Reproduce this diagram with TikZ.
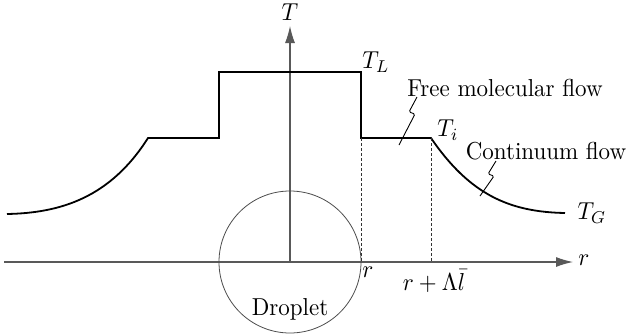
\documentclass[tikz,border=0pt]{standalone}
\usetikzlibrary{arrows.meta}
\begin{document}
\begin{tikzpicture}[x=1pt,y=-1pt,
  axis/.style={draw=black!65,line width=1.1pt},
  prof/.style={draw=black,line width=1.8pt,line join=miter},
  guide/.style={draw=black!80,line width=0.8pt,dash pattern=on 3pt off 2pt},
  leader/.style={draw=black,line width=0.9pt,rounded corners=1.5pt},
  lbl/.style={inner sep=0pt,xscale=2.3,yscale=2.45},
  arr/.style={-{Latex[length=17pt,width=10pt]}}]
\useasboundingbox (0,0) rectangle (630,335);
% axes
\coordinate (rstart) at (4,262);
\coordinate (rend) at (573,262);
\coordinate (o) at (290,262);
\coordinate (tend) at (290,26);
\draw[axis,arr] (rstart) -- (rend);
\draw[axis,arr] (o) -- (tend);
\node[lbl] (Tlab) at (290,12) {$T$};
\node[lbl] (rlab) at (584,260) {$r$};
% droplet
\node[draw=black!70,line width=0.8pt,circle,minimum size=142pt,inner sep=0pt] (drop) at (290,262) {};
\node[lbl] (droplet) at (290,309) {Droplet};
% profile
\coordinate (a0) at (7,214);
\coordinate (a1) at (148,138);
\coordinate (a2) at (219,138);
\coordinate (a3) at (219,72);
\coordinate (a4) at (361,72);
\coordinate (a5) at (361,138);
\coordinate (a6) at (431,138);
\coordinate (a7) at (565,213);
\draw[prof] (a0) .. controls (60,213) and (110,198) .. (a1) -- (a2) -- (a3) -- (a4) -- (a5) -- (a6) .. controls (470,195) and (510,212) .. (a7);
% dashed guides
\coordinate (g1) at (361,262);
\coordinate (g2) at (431,262);
\draw[guide] (a5) -- (g1);
\draw[guide] (a6) -- (g2);
% labels
\node[lbl] (TL) at (376,62) {$T_L$};
\node[lbl] (Ti) at (448,130) {$T_i$};
\node[lbl] (TG) at (592,213) {$T_G$};
\node[lbl] (r1) at (368,272) {$r$};
\node[lbl] (r2) at (434,281) {$r+\Lambda\bar{l}$};
\node[lbl] (fm) at (505,88) {Free molecular flow};
\node[lbl] (cf) at (546,151) {Continuum flow};
% leaders
\coordinate (l1a) at (417,97);
\coordinate (l1b) at (399,145);
\draw[leader] (l1a) -- (409,112) -- (415,114) -- (l1b);
\coordinate (l2a) at (496,161);
\coordinate (l2b) at (480,196);
\draw[leader] (l2a) -- (488,174) -- (494,176) -- (l2b);
\end{tikzpicture}
\end{document}
